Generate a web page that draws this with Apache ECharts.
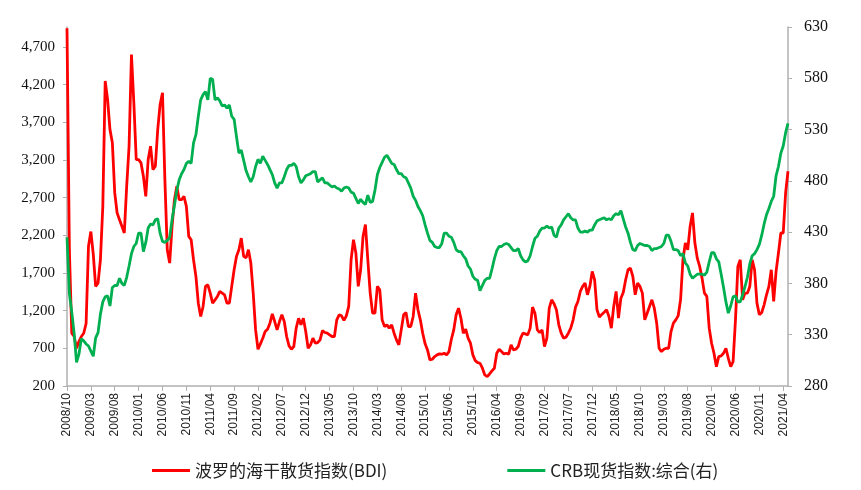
<!DOCTYPE html>
<html><head><meta charset="utf-8">
<script src="https://cdn.jsdelivr.net/npm/echarts@6/dist/echarts.min.js"></script>
<style>html,body{margin:0;padding:0;background:#fff}#c{width:861px;height:490px}</style>
</head><body><div id="c"></div>
<script>
// Half-month categories starting 2008/10 (two points per month), 303 points
var startYear = 2008, startMonth = 10, pointCount = 303;
var categories = [];
for (var k = 0; k < pointCount; k++) {
  var m = startMonth - 1 + Math.floor(k / 2);
  var y = startYear + Math.floor(m / 12);
  var mm = (m % 12) + 1;
  categories.push(y + '/' + (mm < 10 ? '0' + mm : mm));
}
var tickLabels = ['2008/10','2009/03','2009/08','2010/01','2010/06','2010/11','2011/04','2011/09','2012/02','2012/07','2012/12','2013/05','2013/10','2014/03','2014/08','2015/01','2015/06','2015/11','2016/04','2016/09','2017/02','2017/07','2017/12','2018/05','2018/10','2019/03','2019/08','2020/01','2020/06','2020/11','2021/04'];

var bdi = [4950,2000,900,857,700,790,857,900,1030,2054,2250,1950,1522,1566,1876,2585,4250,4004,3605,3428,
2763,2497,2408,2320,2231,2852,3383,4600,3960,3206,3206,3162,2984,2718,3206,3383,3073,3117,3605,3938,
4093,2940,2009,1832,2320,2674,2852,2674,2674,2718,2585,2187,2142,1876,1655,1300,1123,1256,1522,1544,
1433,1300,1344,1389,1455,1433,1411,1300,1300,1522,1743,1921,2009,2164,1921,1900,2010,1832,1433,945,
688,759,835,923,954,1034,1158,1056,945,1056,1145,1056,857,732,688,724,968,1100,1012,1100,
923,701,746,835,768,777,812,936,910,901,879,857,857,1078,1145,1132,1070,1132,1256,1876,
2142,1965,1522,1743,2187,2342,1876,1433,1167,1167,1522,1478,1078,990,1012,968,1012,901,812,746,
945,1145,1176,990,990,1123,1433,1212,1078,900,760,679,546,555,591,613,626,622,635,613,
657,821,945,1145,1233,1100,901,954,835,768,613,537,511,502,436,347,325,360,400,436,
635,688,657,626,635,622,746,679,688,724,835,901,892,879,968,1247,1167,945,910,945,
724,835,1233,1344,1291,1211,1012,901,835,848,901,968,1078,1247,1322,1455,1522,1566,1411,1522,
1721,1610,1212,1114,1150,1180,1211,1123,968,1256,1455,1100,1366,1442,1610,1743,1765,1655,1411,1566,
1522,1433,1078,1167,1256,1344,1233,1034,702,657,688,701,701,923,1034,1078,1132,1344,1876,2100,
2009,2319,2497,2098,1898,1788,1632,1433,1389,968,768,635,457,591,599,635,701,568,457,524,
1078,1788,1876,1344,1433,1433,1522,1876,1743,1300,1145,1176,1278,1411,1522,1743,1322,1721,1965,2231,
2231,2763,3051];

var crb = [425,370,352,331,303,311,326,324,321,319,314,309,327,332,350,362,367,368,358,376,
378,378,385,380,378,386,397,409,416,419,429,429,411,420,434,438,437,442,443,429,
421,420,422,425,442,456,471,481,487,491,497,499,497,517,525,543,559,564,567,559,
580,579,559,561,558,553,554,551,554,543,540,523,507,510,500,490,484,479,484,494,
501,497,504,500,496,491,486,478,473,478,478,484,491,495,495,497,494,484,478,481,
485,486,487,489,489,479,481,483,478,478,476,474,475,473,472,470,473,474,473,469,
468,463,458,462,459,457,466,459,460,471,486,493,498,503,505,501,497,496,491,487,
487,484,483,478,473,465,461,455,451,446,437,429,422,420,416,415,415,419,429,429,
426,425,420,413,411,411,407,404,397,394,387,384,383,373,378,383,385,385,394,404,
412,416,416,418,419,418,415,412,412,414,407,403,401,402,407,416,424,426,431,434,
434,436,434,435,427,425,434,437,442,445,448,444,442,442,434,430,430,431,430,432,
432,437,441,442,443,444,442,443,442,446,448,447,451,443,435,429,420,413,412,417,
419,418,417,417,416,412,414,414,415,416,419,427,427,421,413,413,412,407,409,400,
397,389,385,387,389,389,389,388,391,401,410,410,404,401,389,376,362,351,358,367,
368,362,362,369,377,386,399,407,409,413,418,427,438,447,453,460,465,485,494,507,
514,527,536];

var leftTicks = {min: 200, max: 4966, step: 500};
var rightTicks = {min: 280, max: 630, step: 50};
var seriesNames = ['波罗的海干散货指数(BDI)', 'CRB现货指数:综合(右)'];

var chart = echarts.init(document.getElementById('c'), null, {renderer: 'canvas'});
var axisGray = '#b0b0b0';
chart.setOption({
  animation: false,
  backgroundColor: '#ffffff',
  grid: {left: 67, right: 73, top: 27, bottom: 104, containLabel: false},
  legend: {
    left: 147, bottom: 6,
    itemWidth: 38, itemHeight: 3, itemGap: 120,
    icon: 'rect',
    textStyle: {fontFamily: 'Noto Sans CJK SC', fontSize: 17, color: '#222'},
    data: seriesNames
  },
  xAxis: {
    type: 'category', boundaryGap: false, data: categories,
    axisLine: {lineStyle: {color: axisGray, width: 1.5}},
    axisTick: {show: true, interval: 9, length: 5, lineStyle: {color: axisGray}},
    axisLabel: {
      interval: 9, rotate: 90, margin: 7,
      fontFamily: 'Liberation Sans', fontSize: 12, color: '#222',
      formatter: function (v, idx) { return tickLabels[idx / 10] || v; }
    },
    splitLine: {show: false}
  },
  yAxis: [{
    type: 'value', position: 'left',
    min: leftTicks.min, max: leftTicks.max, interval: leftTicks.step,
    axisLine: {show: true, lineStyle: {color: axisGray, width: 1.5}},
    axisTick: {show: true, length: 4, lineStyle: {color: axisGray}},
    axisLabel: {showMaxLabel: false, margin: 12, fontFamily: 'Liberation Serif', fontSize: 15, color: '#111',
      formatter: function (v) { return v.toLocaleString('en-US'); }},
    splitLine: {show: false}
  }, {
    type: 'value', position: 'right',
    min: rightTicks.min, max: rightTicks.max, interval: rightTicks.step,
    axisLine: {show: true, lineStyle: {color: axisGray, width: 1.5}},
    axisTick: {show: true, length: 4, lineStyle: {color: axisGray}},
    axisLabel: {margin: 16, fontFamily: 'Liberation Serif', fontSize: 16, color: '#111'},
    splitLine: {show: false}
  }],
  series: [{
    name: seriesNames[0], type: 'line', yAxisIndex: 0, data: bdi,
    symbol: 'none', lineStyle: {color: '#ff0000', width: 2.8}, itemStyle: {color: '#ff0000'}
  }, {
    name: seriesNames[1], type: 'line', yAxisIndex: 1, data: crb,
    symbol: 'none', lineStyle: {color: '#00b050', width: 2.8}, itemStyle: {color: '#00b050'}
  }]
});
</script></body></html>
